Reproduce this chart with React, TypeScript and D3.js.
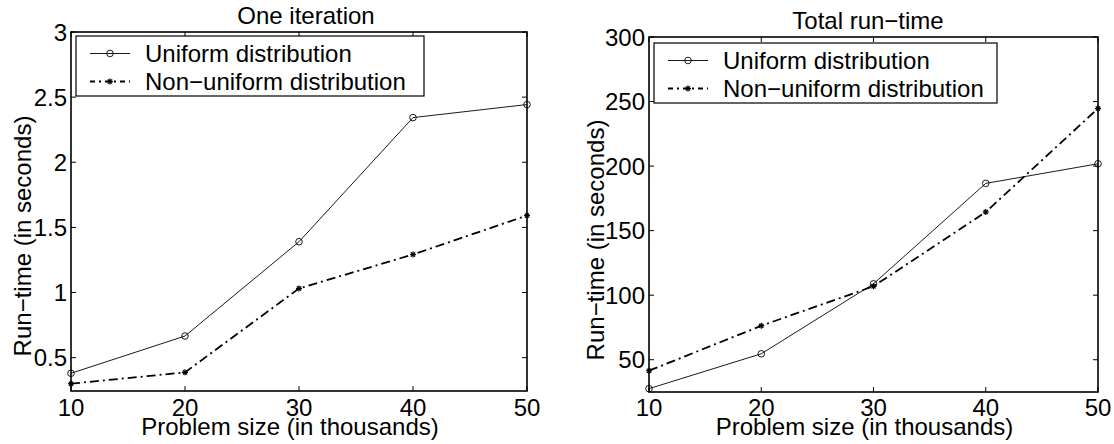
import React, { useRef, useEffect } from "react";
import * as d3 from "d3";

// problem sizes (thousands)
const sizes = [10, 20, 30, 40, 50];
const sizeTicks = [10, 20, 30, 40, 50];

// one iteration, seconds
const iterUniform = [0.38, 0.666, 1.39, 2.343, 2.443];
const iterNonUniform = [0.3, 0.387, 1.031, 1.292, 1.591];
const iterTicks = [0.5, 1, 1.5, 2, 2.5, 3];

// total run-time, seconds
const totalUniform = [27.6, 54.6, 108.8, 186.6, 201.8];
const totalNonUniform = [41.5, 76.3, 106.9, 164.4, 244.6];
const totalTicks = [50, 100, 150, 200, 250, 300];

const seriesNames = ["Uniform distribution", "Non\u2212uniform distribution"];
const titles = ["One iteration", "Total run\u2212time"];
const xLabel = "Problem size (in thousands)";
const yLabel = "Run\u2212time (in seconds)";

const FONT = "'Liberation Sans', Arial, Helvetica, sans-serif";

function drawPanel(root, p) {
    const g = root.append("g");

    const x = d3.scaleLinear().domain([10, 50]).range([p.left, p.right]);
    const y = d3.scaleLinear().domain(p.yDomain).range([p.bottom, p.top]);
    const tickLen = 5;

    // ticks on all four sides, pointing inwards
    sizeTicks.forEach(t => {
        g.append("line").attr("x1", x(t)).attr("x2", x(t))
            .attr("y1", p.bottom).attr("y2", p.bottom - tickLen)
            .attr("stroke", "#000").attr("stroke-width", 1);
        g.append("line").attr("x1", x(t)).attr("x2", x(t))
            .attr("y1", p.top).attr("y2", p.top + tickLen)
            .attr("stroke", "#000").attr("stroke-width", 1);
        g.append("text").attr("x", x(t)).attr("y", 416)
            .attr("text-anchor", "middle").attr("font-size", 24)
            .text(t);
    });
    p.yTicks.forEach(t => {
        g.append("line").attr("x1", p.left).attr("x2", p.left + tickLen)
            .attr("y1", y(t)).attr("y2", y(t))
            .attr("stroke", "#000").attr("stroke-width", 1);
        g.append("line").attr("x1", p.right).attr("x2", p.right - tickLen)
            .attr("y1", y(t)).attr("y2", y(t))
            .attr("stroke", "#000").attr("stroke-width", 1);
        g.append("text").attr("x", p.left - 4).attr("y", y(t))
            .attr("text-anchor", "end").attr("dominant-baseline", "central")
            .attr("font-size", 24)
            .text(t);
    });

    g.append("rect")
        .attr("x", p.left).attr("y", p.top)
        .attr("width", p.right - p.left).attr("height", p.bottom - p.top)
        .attr("fill", "none").attr("stroke", "#000").attr("stroke-width", 1.6);

    const line = d3.line()
        .x((d, i) => x(sizes[i]))
        .y(d => y(d));

    // uniform: thin solid with circles
    g.append("path").datum(p.uniform)
        .attr("fill", "none").attr("stroke", "#000").attr("stroke-width", 0.9)
        .attr("d", line);
    g.selectAll(null).data(p.uniform).enter().append("circle")
        .attr("cx", (d, i) => x(sizes[i])).attr("cy", d => y(d)).attr("r", 3.3)
        .attr("fill", "none").attr("stroke", "#000").attr("stroke-width", 0.9);

    // non-uniform: dash-dot with small stars
    g.append("path").datum(p.nonUniform)
        .attr("fill", "none").attr("stroke", "#000").attr("stroke-width", 1.8)
        .attr("stroke-dasharray", "9,4,2,4")
        .attr("d", line);
    p.nonUniform.forEach((d, i) => star(g, x(sizes[i]), y(d)));

    // title and axis labels
    g.append("text").attr("x", p.titleX).attr("y", p.top - 8)
        .attr("text-anchor", "middle").attr("font-size", 24).text(p.title);
    g.append("text").attr("x", (p.left + p.right) / 2 - 9).attr("y", 435)
        .attr("text-anchor", "middle").attr("font-size", 24).text(xLabel);
    g.append("text")
        .attr("transform", `translate(${p.yLabelX},${p.yLabelY}) rotate(-90)`)
        .attr("text-anchor", "middle").attr("font-size", 24).text(yLabel);

    // legend
    const lg = g.append("g").attr("transform", `translate(${p.legendX},${p.legendY})`);
    lg.append("rect").attr("width", p.legendW).attr("height", 60)
        .attr("fill", "#fff").attr("stroke", "#000").attr("stroke-width", 1.2);
    const rows = [17.5, 45.5];
    lg.append("line").attr("x1", 14).attr("x2", 54).attr("y1", rows[0]).attr("y2", rows[0])
        .attr("stroke", "#000").attr("stroke-width", 0.9);
    lg.append("circle").attr("cx", 34).attr("cy", rows[0]).attr("r", 3.3)
        .attr("fill", "none").attr("stroke", "#000").attr("stroke-width", 0.9);
    lg.append("line").attr("x1", 14).attr("x2", 54).attr("y1", rows[1]).attr("y2", rows[1])
        .attr("stroke", "#000").attr("stroke-width", 1.8)
        .attr("stroke-dasharray", "5,4,2,4");
    star(lg, 34, rows[1]);
    seriesNames.forEach((name, i) => {
        lg.append("text").attr("x", 69).attr("y", rows[i])
            .attr("dominant-baseline", "central").attr("font-size", 24)
            .text(name);
    });
}

function star(g, cx, cy) {
    const r = 3;
    [[-r, 0, r, 0], [0, -r, 0, r], [-r * 0.7, -r * 0.7, r * 0.7, r * 0.7], [-r * 0.7, r * 0.7, r * 0.7, -r * 0.7]]
        .forEach(s => {
            g.append("line")
                .attr("x1", cx + s[0]).attr("y1", cy + s[1])
                .attr("x2", cx + s[2]).attr("y2", cy + s[3])
                .attr("stroke", "#000").attr("stroke-width", 1.3);
        });
}

export default function App() {
    const svgRef = useRef(null);

    useEffect(() => {
        const svg = d3.select(svgRef.current);
        svg.selectAll("*").remove();
        const root = svg.append("g").attr("font-family", FONT).attr("fill", "#000");

        drawPanel(root, {
            left: 71, right: 527, top: 32, bottom: 391,
            yDomain: [0.244, 3], yTicks: iterTicks,
            uniform: iterUniform, nonUniform: iterNonUniform,
            title: titles[0], titleX: 306,
            yLabelX: 31, yLabelY: 236,
            legendX: 76, legendY: 36, legendW: 348,
        });
        drawPanel(root, {
            left: 649, right: 1098, top: 37, bottom: 392,
            yDomain: [25, 300], yTicks: totalTicks,
            uniform: totalUniform, nonUniform: totalNonUniform,
            title: titles[1], titleX: 868,
            yLabelX: 604, yLabelY: 240,
            legendX: 654, legendY: 43, legendW: 343,
        });
    }, []);

    return (
        <svg ref={svgRef} width={1114} height={444}
            style={{ position: "absolute", left: 0, top: 0, background: "#fff" }} />
    );
}
